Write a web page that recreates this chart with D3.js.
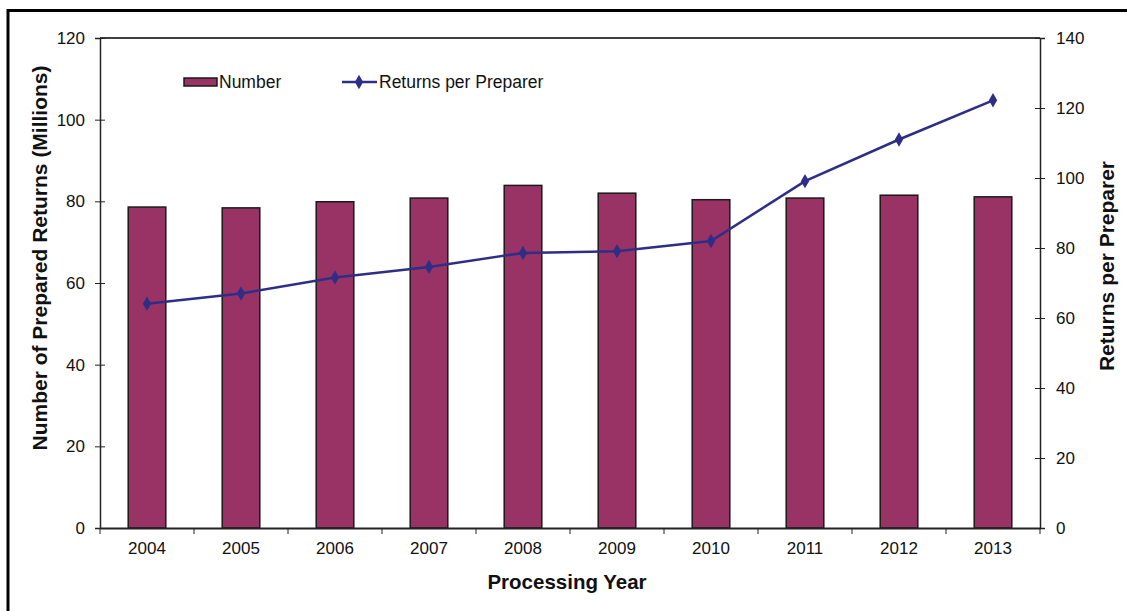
<!DOCTYPE html>
<html>
<head>
<meta charset="utf-8">
<script src="https://cdn.jsdelivr.net/npm/d3@7"></script>
<style>
  html, body { margin: 0; padding: 0; background: #fff; }
  svg { display: block; font-family: "Liberation Sans", Arial, sans-serif; }
</style>
</head>
<body>
<svg id="chart" width="1127" height="611"></svg>
<script>
// Prepared returns by processing year
const years = ["2004", "2005", "2006", "2007", "2008", "2009", "2010", "2011", "2012", "2013"];
const numberMillions = [78.6, 78.4, 79.9, 80.8, 83.9, 82.0, 80.4, 80.8, 81.5, 81.1];
const returnsPerPreparer = [64.1, 67.0, 71.6, 74.6, 78.6, 79.1, 82.0, 99.1, 111.0, 122.2];
const leftTicks = [0, 20, 40, 60, 80, 100, 120];
const rightTicks = [0, 20, 40, 60, 80, 100, 120, 140];

const svg = d3.select("#chart");
const plot = { left: 100, right: 1040, top: 38, bottom: 528 };
const FONT = "'Liberation Sans', Arial, sans-serif";

const barColor = "#993366";
const lineColor = "#2e2e86";

// Outer frame (left and top edges)
svg.append("path")
  .attr("d", "M8,611 V10.5 H1127")
  .attr("fill", "none").attr("stroke", "#000").attr("stroke-width", 3);

const x = d3.scaleBand().domain(years).range([plot.left, plot.right]).paddingInner(0).paddingOuter(0);
const yL = d3.scaleLinear().domain([0, 120]).range([plot.bottom, plot.top]);
const yR = d3.scaleLinear().domain([0, 140]).range([plot.bottom, plot.top]);

// Plot area top border
svg.append("line")
  .attr("x1", plot.left).attr("x2", plot.right)
  .attr("y1", plot.top).attr("y2", plot.top)
  .attr("stroke", "#000").attr("stroke-width", 1.5);

// Bars
const barW = x.bandwidth() * 0.4;
svg.append("g").selectAll("rect").data(years).join("rect")
  .attr("x", (d) => x(d) + (x.bandwidth() - barW) / 2)
  .attr("y", (d, i) => yL(numberMillions[i]))
  .attr("width", barW)
  .attr("height", (d, i) => yL(0) - yL(numberMillions[i]))
  .attr("fill", barColor)
  .attr("stroke", "#1a1a1a").attr("stroke-width", 1.5);

function styleLabels(g) {
  g.attr("font-size", null).attr("font-family", null);
  g.selectAll("text")
    .style("font-size", "17px").style("font-family", FONT).attr("fill", "#111");
}

// Left axis
const leftAxis = svg.append("g").attr("transform", `translate(${plot.left},0)`)
  .call(d3.axisLeft(yL).tickValues(leftTicks).tickSize(5).tickPadding(10));
leftAxis.select(".domain").attr("stroke", "#222").attr("stroke-width", 1.5);
leftAxis.selectAll(".tick line").attr("x2", 5).attr("x1", -5).attr("stroke", "#222");
styleLabels(leftAxis);

// Right axis
const rightAxis = svg.append("g").attr("transform", `translate(${plot.right},0)`)
  .call(d3.axisRight(yR).tickValues(rightTicks).tickSize(5).tickPadding(11));
rightAxis.select(".domain").attr("stroke", "#222").attr("stroke-width", 1.5);
rightAxis.selectAll(".tick line").attr("x1", -5).attr("x2", 5).attr("stroke", "#222");
styleLabels(rightAxis);

// Bottom axis with ticks at category boundaries
const bottom = svg.append("g").attr("transform", `translate(0,${plot.bottom})`)
  .call(d3.axisBottom(x).tickSize(0).tickPadding(14));
bottom.select(".domain").attr("stroke", "#222").attr("stroke-width", 2);
styleLabels(bottom);
const edges = years.map((d) => x(d)).concat([x(years[years.length - 1]) + x.bandwidth()]);
bottom.append("g").selectAll("line").data(edges).join("line")
  .attr("x1", (d) => d).attr("x2", (d) => d)
  .attr("y1", 0).attr("y2", 6)
  .attr("stroke", "#222").attr("stroke-width", 1);

// Line series
const cx = (d) => x(d) + x.bandwidth() / 2;
const line = d3.line().x((d) => cx(d[0])).y((d) => yR(d[1]));
const pts = years.map((y, i) => [y, returnsPerPreparer[i]]);
svg.append("path").datum(pts)
  .attr("d", line).attr("fill", "none")
  .attr("stroke", lineColor).attr("stroke-width", 2.5);
const diamond = d3.symbol().type(d3.symbolDiamond).size(60);
svg.append("g").selectAll("path").data(pts).join("path")
  .attr("transform", (d) => `translate(${cx(d[0])},${yR(d[1])})`)
  .attr("d", diamond).attr("fill", lineColor);

// Axis titles
svg.append("text")
  .attr("transform", `translate(47,258) rotate(-90)`)
  .attr("text-anchor", "middle").style("font-size", "21px").attr("font-weight", "bold").attr("fill", "#111")
  .text("Number of Prepared Returns (Millions)");
svg.append("text")
  .attr("transform", `translate(1114,266) rotate(-90)`)
  .attr("text-anchor", "middle").style("font-size", "21px").attr("font-weight", "bold").attr("fill", "#111")
  .text("Returns per Preparer");
svg.append("text")
  .attr("x", 567).attr("y", 589)
  .attr("text-anchor", "middle").style("font-size", "20.5px").attr("font-weight", "bold").attr("fill", "#111")
  .text("Processing Year");

// Legend
const lg = svg.append("g");
lg.append("rect").attr("x", 184).attr("y", 78).attr("width", 33).attr("height", 8)
  .attr("fill", barColor).attr("stroke", "#1a1a1a").attr("stroke-width", 1.5);
lg.append("text").attr("x", 219).attr("y", 88).style("font-size", "17.5px").attr("fill", "#111").text("Number");
lg.append("line").attr("x1", 342).attr("x2", 377).attr("y1", 82).attr("y2", 82)
  .attr("stroke", lineColor).attr("stroke-width", 2.5);
lg.append("path").attr("transform", "translate(359,82)").attr("d", diamond).attr("fill", lineColor);
lg.append("text").attr("x", 379).attr("y", 88).style("font-size", "17.5px").attr("fill", "#111").text("Returns per Preparer");
</script>
</body>
</html>
